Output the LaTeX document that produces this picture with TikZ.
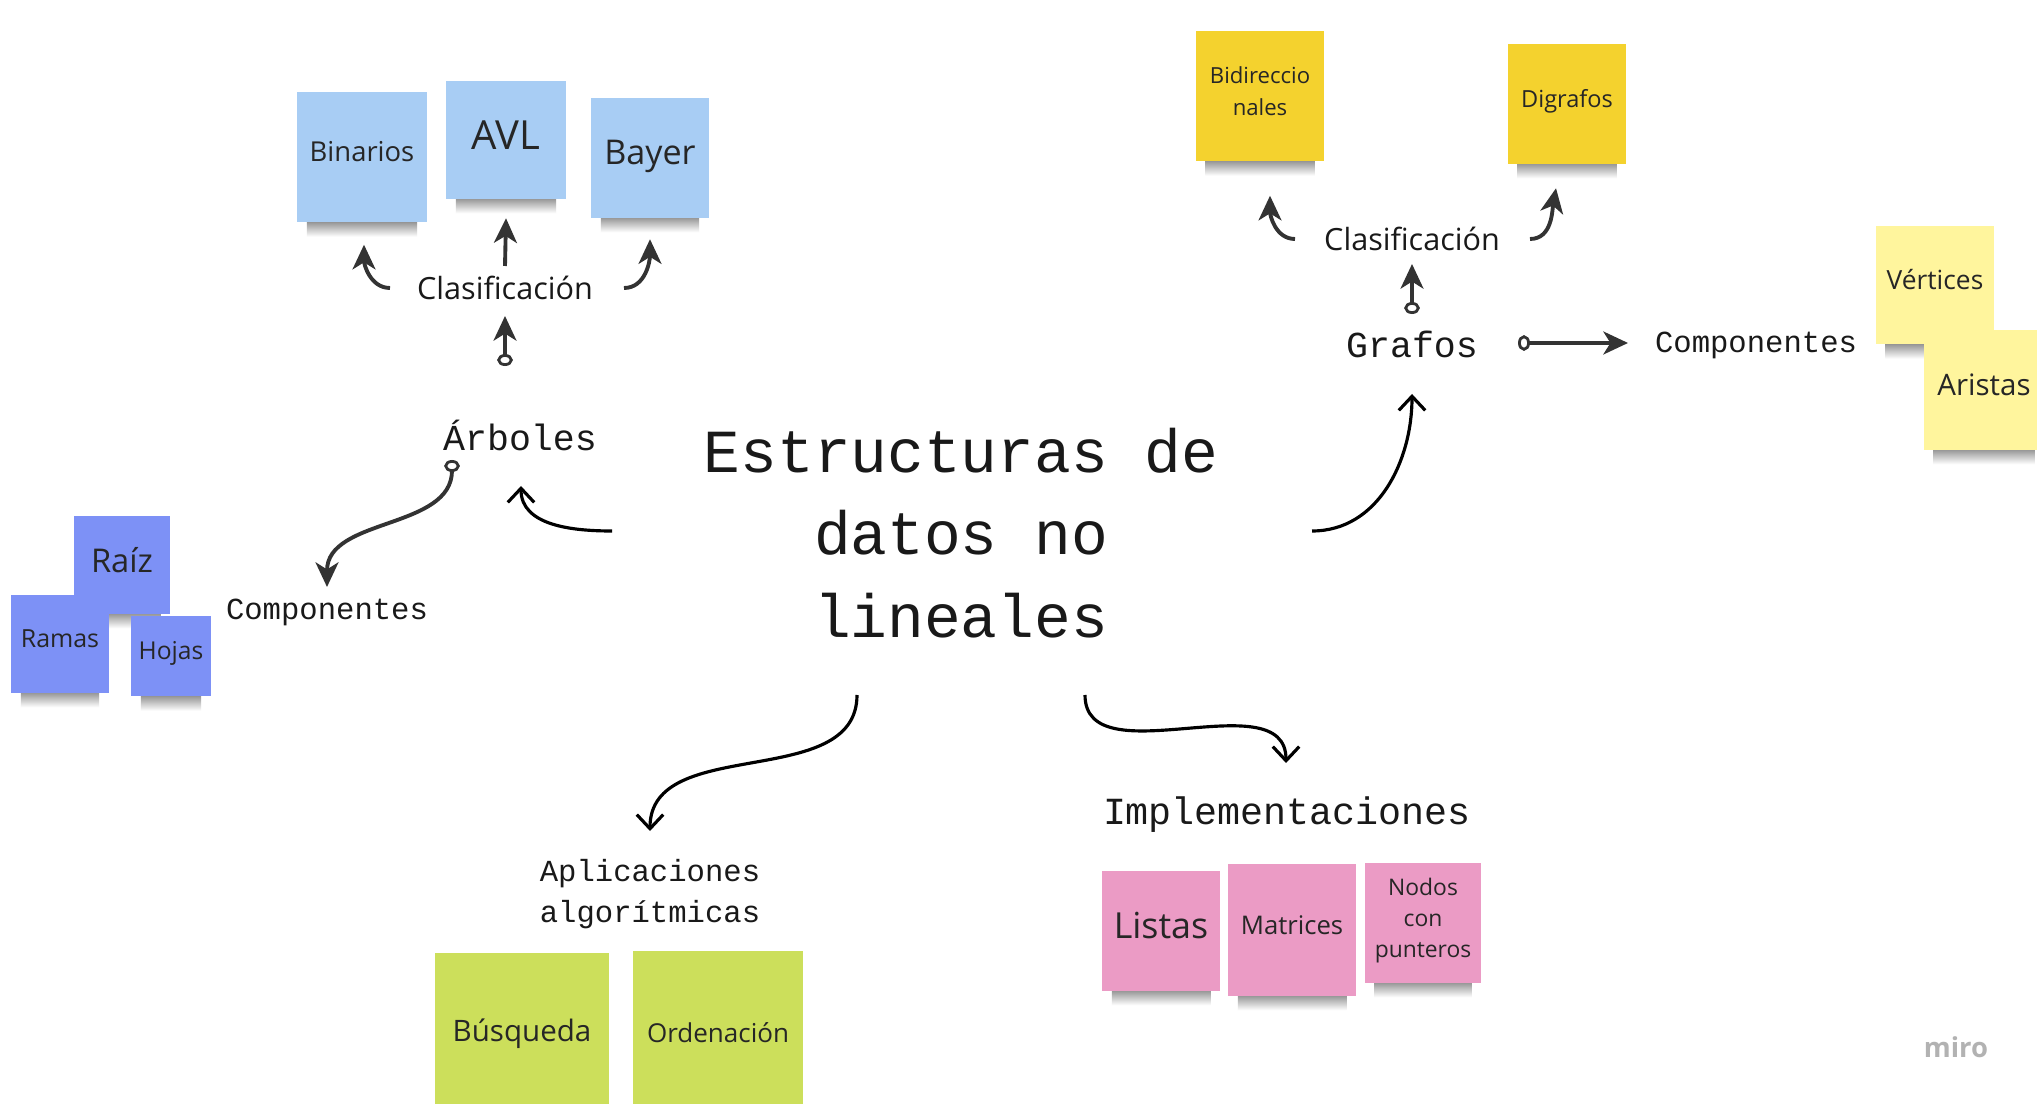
\documentclass[tikz,border=0pt]{standalone}
\usepackage{fontspec}
\setmainfont{Open Sans}
\newfontfamily\monofont{Liberation Mono}
\usetikzlibrary{arrows.meta,calc}

\definecolor{treeblue}{HTML}{A8CDF4}
\definecolor{partblue}{HTML}{7D91F6}
\definecolor{graphyellow}{HTML}{F4D22E}
\definecolor{partyellow}{HTML}{FFF59D}
\definecolor{implpink}{HTML}{EB9BC5}
\definecolor{appgreen}{HTML}{CCDF5B}
\definecolor{inkgray}{HTML}{333333}

\pgfdeclarelayer{background}
\pgfsetlayers{background,main}

\tikzset{
  note/.style={rectangle, inner sep=0pt, align=center, text=black!85, text depth=3pt,
    append after command={\pgfextra{\begin{pgfonlayer}{background}
      \shade[top color=black!45, middle color=black!18, bottom color=white]
        ($(\tikzlastnode.south west)+(10,-2)$) rectangle ($(\tikzlastnode.south east)+(-10,14)$);
    \end{pgfonlayer}}}},
  lbl/.style={inner sep=0pt, align=center, text=black!90},
  darkarrow/.style={draw=inkgray, line width=1.1pt,
    -{Stealth[length=7pt,width=6.5pt,inset=2pt]}},
  ringarrow/.style={darkarrow,
    {Circle[open,length=3.4pt,width=4.4pt,line width=0.8pt]}-{Stealth[length=7pt,width=6.5pt,inset=2pt]}},
  thinarrow/.style={draw=black, line width=0.9pt,
    -{Straight Barb[length=4pt,width=7.5pt]}}
}

\begin{document}
\begin{tikzpicture}[x=0.01cm, y=-0.01cm]
	\useasboundingbox (0,0) rectangle (2037,1104);
	\clip (0,0) rectangle (2037,1104);
	\begin{pgfonlayer}{background}
		\fill[white] (0,0) rectangle (2037,1104);
	\end{pgfonlayer}

	% centre
	\node[lbl, font=\monofont\fontsize{17.4}{23.5}\selectfont] (title) at (961,533) {Estructuras de\\datos no\\lineales};

	% arboles
	\node[note, fill=treeblue, minimum width=1.29cm, minimum height=1.30cm, font=\fontsize{7.8}{9}\selectfont] (binarios) at (362,157) {Binarios};
	\node[note, fill=treeblue, minimum width=1.19cm, minimum height=1.17cm, font=\fontsize{11.4}{13}\selectfont] (avl) at (506,140) {AVL};
	\node[note, fill=treeblue, minimum width=1.17cm, minimum height=1.19cm, font=\fontsize{9.7}{12}\selectfont] (bayer) at (650,158) {Bayer};
	\node[lbl, font=\fontsize{8.7}{10}\selectfont] (clasA) at (505,288) {Clasificación};
	\node[lbl, font=\monofont\fontsize{10.4}{12}\selectfont] (arboles) at (520,435) {Árboles};
	\node[lbl, font=\monofont\fontsize{8.7}{10}\selectfont] (compA) at (327,612) {Componentes};
	\node[note, fill=partblue, minimum width=0.97cm, minimum height=0.97cm, font=\fontsize{7.1}{9}\selectfont] (ramas) at (60,644) {Ramas};
	\node[note, fill=partblue, minimum width=0.96cm, minimum height=0.97cm, font=\fontsize{9.3}{11}\selectfont] (raiz) at (122,565) {Raíz};
	\node[note, fill=partblue, minimum width=0.79cm, minimum height=0.80cm, font=\fontsize{7}{9}\selectfont] (hojas) at (171,656) {Hojas};

	\draw[darkarrow] ($(clasA)+(0,-22)$) -- ($(avl.south)+(0,19)$);
	\draw[darkarrow] ($(clasA)+(-115,0)$) to[out=180,in=-90] ($(binarios.south)+(2,22)$);
	\draw[darkarrow] ($(clasA)+(119,0)$) to[out=0,in=-90] ($(bayer.south)+(0,21)$);
	\draw[ringarrow] ($(arboles)+(-15,-69)$) -- ($(clasA)+(0,28)$);
	\draw[ringarrow] ($(arboles)+(-68,25)$) to[out=-90,in=90] ($(compA)+(0,-25)$);
	\draw[thinarrow] ($(title)+(-349,-2)$) to[out=180,in=-90] ($(arboles)+(1,51)$);

	% grafos
	\node[note, fill=graphyellow, minimum width=1.28cm, minimum height=1.30cm, font=\fontsize{6.3}{9.1}\selectfont] (bidir) at (1260,96) {Bidireccio\\nales};
	\node[note, fill=graphyellow, minimum width=1.18cm, minimum height=1.19cm, font=\fontsize{6.7}{9}\selectfont] (digrafos) at (1567,104) {Digrafos};
	\node[lbl, font=\fontsize{8.7}{10}\selectfont] (clasB) at (1412,239) {Clasificación};
	\node[lbl, font=\monofont\fontsize{10.4}{12}\selectfont] (grafos) at (1412,344) {Grafos};
	\node[lbl, font=\monofont\fontsize{8.7}{10}\selectfont] (compB) at (1756,345) {Componentes};
	\node[note, fill=partyellow, minimum width=1.18cm, minimum height=1.18cm, font=\fontsize{7.5}{9}\selectfont] (vertices) at (1935,285) {Vértices};
	\node[note, fill=partyellow, minimum width=1.20cm, minimum height=1.19cm, font=\fontsize{8.4}{10}\selectfont] (aristas) at (1984,390) {Aristas};

	\draw[darkarrow] ($(clasB)+(-117,0)$) to[out=180,in=-90] ($(bidir.south)+(10,34)$);
	\draw[darkarrow] ($(clasB)+(118,0)$) to[out=0,in=-100] ($(digrafos.south)+(-11,24)$);
	\draw[ringarrow] ($(grafos)+(0,-30)$) -- ($(clasB)+(0,25)$);
	\draw[ringarrow] ($(grafos)+(106,-1)$) -- ($(compB)+(-128,-2)$);
	\draw[thinarrow] ($(title)+(351,-2)$) to[out=0,in=-90] ($(grafos)+(0,50)$);

	% aplicaciones
	\node[lbl, font=\monofont\fontsize{8.7}{11.8}\selectfont] (aplic) at (650,894) {Aplicaciones\\algorítmicas};
	\node[note, fill=appgreen, minimum width=1.73cm, minimum height=1.63cm, font=\fontsize{8.4}{10}\selectfont] (busqueda) at (522,1035) {Búsqueda};
	\node[note, fill=appgreen, minimum width=1.70cm, minimum height=1.63cm, text depth=0pt, font=\fontsize{7.4}{9}\selectfont] (ordenacion) at (718,1033) {Ordenación};
	\draw[thinarrow] ($(title)+(-104,162)$) to[out=-90,in=90] ($(aplic)+(0,-63)$);

	% implementaciones
	\node[lbl, font=\monofont\fontsize{10.9}{13}\selectfont] (impl) at (1287,815) {Implementaciones};
	\node[note, fill=implpink, minimum width=1.17cm, minimum height=1.19cm, font=\fontsize{10.2}{12}\selectfont] (listas) at (1161,931) {Listas};
	\node[note, fill=implpink, minimum width=1.27cm, minimum height=1.31cm, font=\fontsize{7.3}{9}\selectfont] (matrices) at (1292,930) {Matrices};
	\node[note, fill=implpink, minimum width=1.16cm, minimum height=1.19cm, font=\fontsize{6.5}{8.7}\selectfont] (nodos) at (1423,923) {Nodos\\con\\punteros};
	\draw[thinarrow] ($(title)+(124,162)$) to[out=-90,in=90] ($(impl)+(-1,-52)$);

	\node[lbl, font=\bfseries\fontsize{7.8}{9}\selectfont, text=black!30] (miro) at (1956,1047) {miro};
\end{tikzpicture}
\end{document}
